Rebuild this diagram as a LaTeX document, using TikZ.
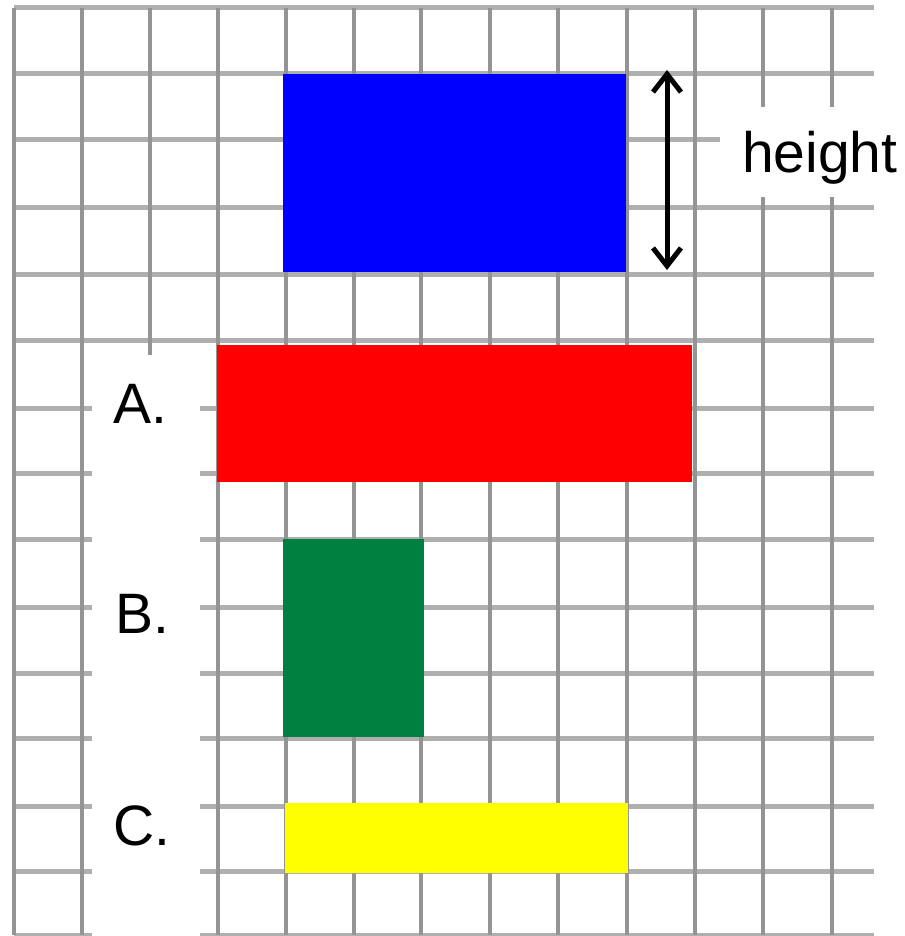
\documentclass[tikz,border=0pt]{standalone}
\usepackage{fontspec}
\setmainfont{Liberation Sans}
\usetikzlibrary{arrows.meta}
\definecolor{vline}{RGB}{148,148,148}
\definecolor{hline}{RGB}{175,175,175}
\definecolor{myblue}{RGB}{0,0,255}
\definecolor{myred}{RGB}{255,0,0}
\definecolor{mygreen}{RGB}{0,128,64}
\definecolor{myyellow}{RGB}{255,255,0}
\tikzset{
  vgrid/.style={draw=vline,line width=3.5pt},
  hgrid/.style={draw=hline,line width=5pt},
  blank/.style={fill=white,draw=none},
  lbl/.style={anchor=base west,inner sep=0pt,font=\fontsize{57pt}{60pt}\selectfont},
  dim/.style={line width=5pt,{Straight Barb[length=18pt,width=28pt,line width=5pt]}-{Straight Barb[length=18pt,width=28pt,line width=5pt]}}
}
\begin{document}
\begin{tikzpicture}[x=1pt,y=-1pt]
\useasboundingbox (0,0) rectangle (904,936);
\fill[white] (0,0) rectangle (904,936);
% grid
\foreach \y in {8,74,140,207,274,340,408,473,539,607,673,738,806,871,935}
  \draw[hgrid] (14,\y) -- (874,\y);
\foreach \x in {14,82,150,218,286,354,421,490,558,627,695,763,832}
  \draw[vgrid] (\x,8) -- (\x,935);
% white label areas
\fill[blank] (92,355) rectangle (200,936);
\fill[blank] (720,107) rectangle (904,197);
% rectangles
\fill[myblue] (283,74) rectangle (626,272);
\fill[myred] (217,345) rectangle (692,482);
\fill[mygreen] (283,539) rectangle (424,737);
\fill[myyellow] (285,803) rectangle (628,873);
% dimension arrow
\coordinate (atop) at (667,70);
\coordinate (abot) at (667,270);
\draw[dim] (atop) -- (abot);
% labels
\node[lbl] (h) at (742,172) {height};
\node[lbl] (la) at (113,423) {A.};
\node[lbl] (lb) at (115,633) {B.};
\node[lbl] (lc) at (113,845) {C.};
\end{tikzpicture}
\end{document}
